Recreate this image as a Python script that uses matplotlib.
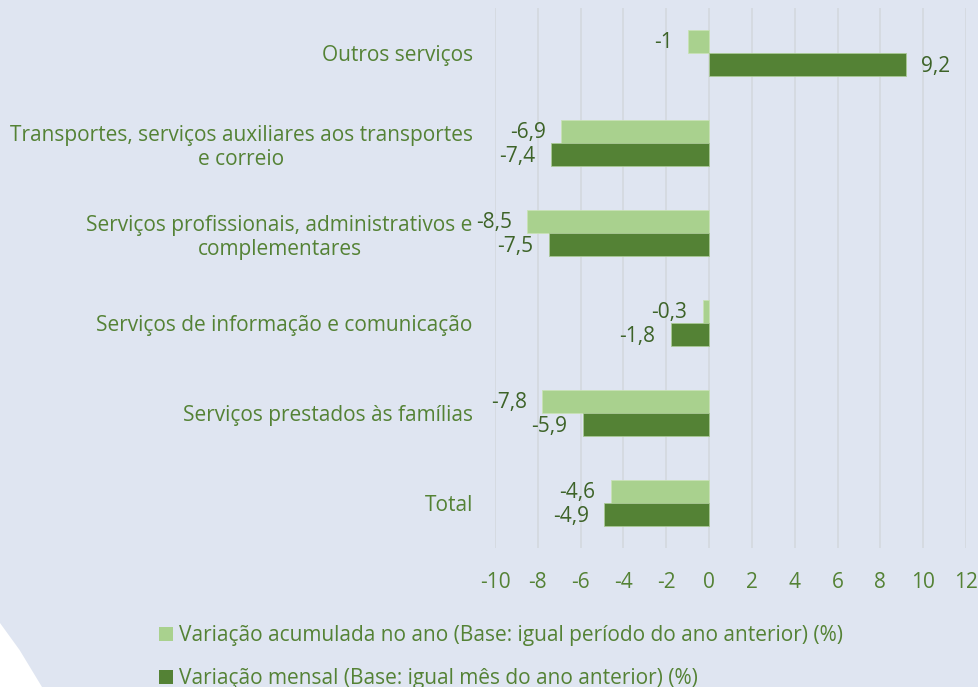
import numpy as np
import matplotlib
matplotlib.use("Agg")
from matplotlib import pyplot as plt
from matplotlib.patches import Polygon, Patch

categorias = ["Outros serviços",
              "Transportes, serviços auxiliares aos transportes\ne correio",
              "Serviços profissionais, administrativos e\ncomplementares",
              "Serviços de informação e comunicação",
              "Serviços prestados às famílias",
              "Total"]
acumulada = [-1.0, -6.9, -8.5, -0.3, -7.8, -4.6]
mensal = [9.2, -7.4, -7.5, -1.8, -5.9, -4.9]
nomes = ["Variação acumulada no ano (Base: igual período do ano anterior) (%)",
         "Variação mensal (Base: igual mês do ano anterior) (%)"]
xticks = list(range(-10, 13, 2))

bg = '#DFE5F1'
claro = '#A9D18E'
escuro = '#548235'
txt = '#548235'
lbl = '#3D6328'

plt.rcParams['font.family'] = ['Open Sans', 'DejaVu Sans']
plt.rcParams['font.size'] = 15

fig = plt.figure(figsize=(9.79, 6.87), dpi=100, facecolor=bg)
# white corner shape bottom left
fig.patches.append(Polygon([[0, 0], [0, 1 - 623 / 687], [0.02, 1 - 650 / 687], [42 / 979, 0]],
                           closed=True, transform=fig.transFigure, facecolor='white',
                           edgecolor='none', zorder=0))

ax = fig.add_axes([495 / 979, 1 - 548 / 687, (966 - 495) / 979, (548 - 8) / 687])
ax.set_facecolor('none')

y = np.arange(len(categorias))
h = 0.26
b1 = ax.barh(y - h / 2, acumulada, height=h, color=claro, edgecolor='#C8E2B5', linewidth=0.6, zorder=3)
b2 = ax.barh(y + h / 2, mensal, height=h, color=escuro, edgecolor='#A9C995', linewidth=0.6, zorder=3)

def fmt(v):
    s = ('%.1f' % v).replace('.', ',')
    if s.endswith(',0'):
        s = s[:-2]
    return s

for bars, vals in ((b1, acumulada), (b2, mensal)):
    for rect, v in zip(bars, vals):
        yc = rect.get_y() + rect.get_height() / 2
        off = 11 if v >= 0 else -11
        ax.annotate(fmt(v), xy=(v, yc), xytext=(off, -1), textcoords='offset points',
                    ha='left' if v >= 0 else 'right', va='center', color=lbl, fontsize=15)

ax.set_xlim(-10, 12)
ax.set_ylim(len(categorias) - 0.5, -0.5)
ax.set_xticks(xticks)
ax.set_xticklabels([str(t) for t in xticks], color=txt)
ax.set_yticks(y)
ax.set_yticklabels(categorias, color=txt, multialignment='center')
ax.tick_params(axis='both', length=0)
ax.tick_params(axis='y', pad=16)
ax.tick_params(axis='x', pad=17)
ax.grid(axis='x', color='#D4D8DE', linewidth=1.2, zorder=0)
ax.set_axisbelow(True)
for s in ax.spines.values():
    s.set_visible(False)

handles = [Patch(facecolor=claro, edgecolor='none'), Patch(facecolor=escuro, edgecolor='none')]
leg = fig.legend(handles, nomes, loc='upper left', bbox_to_anchor=(159 / 979, 1 - 625 / 687),
                 frameon=False, handlelength=0.65, handleheight=0.65, handletextpad=0.3,
                 labelspacing=1.05, borderaxespad=0, borderpad=0)
for t in leg.get_texts():
    t.set_color(txt)

fig.savefig('out.png', dpi=100, facecolor=bg)
